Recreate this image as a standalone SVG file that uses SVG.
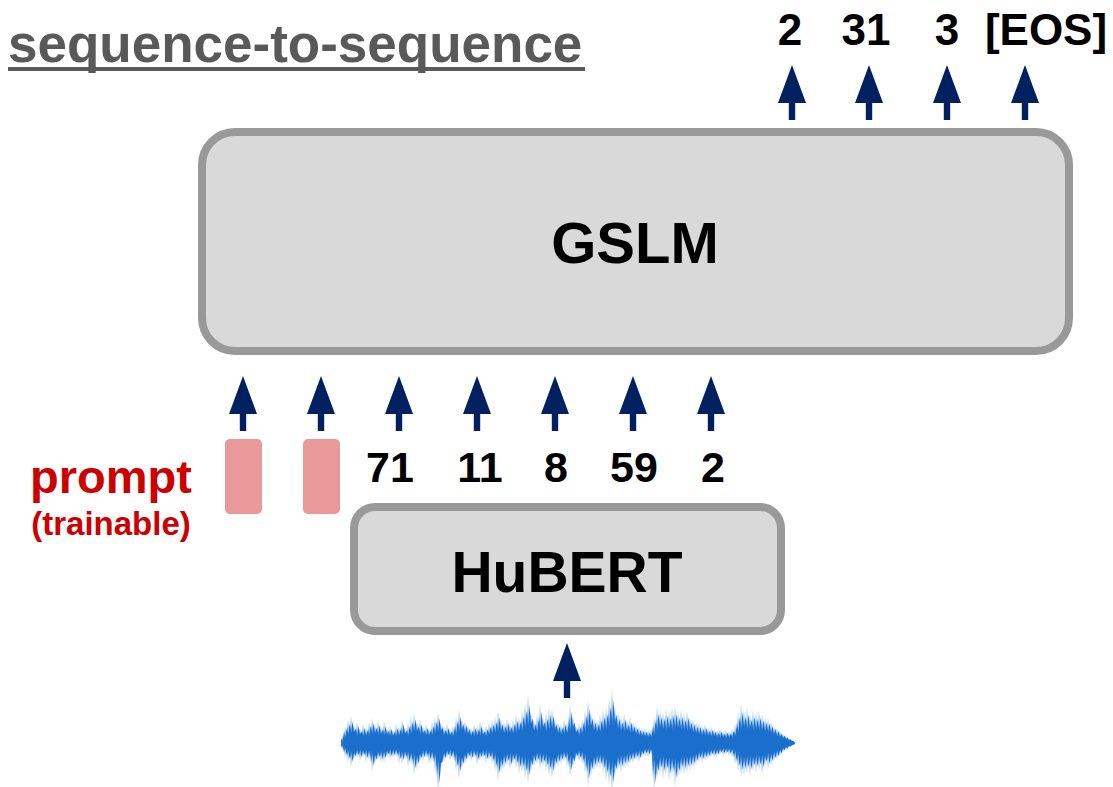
<svg xmlns="http://www.w3.org/2000/svg" xmlns:xlink="http://www.w3.org/1999/xlink" width="1113" height="787" viewBox="0 0 1113 787">
  <style>
    .box { fill: #D9D9D9; stroke: #999999; stroke-width: 8; }
    .lbl { font-family: "Liberation Sans", Arial, sans-serif; font-weight: bold; fill: #000000; text-anchor: middle; }
    .tok { font-family: "Liberation Sans", Arial, sans-serif; font-weight: bold; fill: #000000; text-anchor: middle; }
    .red { font-family: "Liberation Sans", Arial, sans-serif; font-weight: bold; fill: #CC0000; text-anchor: middle; }
    .prompt { fill: #E99999; }
    .arrow { fill: #002060; }
  </style>
  <defs>
    <!-- upward block arrow, tip at origin -->
    <path id="up" d="M0,0 L14,38 L3.2,38 L3.2,55 L-3.2,55 L-3.2,38 L-14,38 Z"/>
    <!-- waveform envelope around y=0 -->
    <path id="wave" d="M342,0 L342,-6 343.5,-3 345,-14 346.5,-7 348,-20 349.5,-10 351,-23 352.5,-11.5 354,-15 355.5,-7.5 357,-18 358.5,-9 360,-12 361.5,-6 363,-16 364.5,-8 366,-13 367.5,-6.5 369,-18 370.5,-9 372,-21 373.5,-10.5 375,-16 376.5,-8 378,-19 379.5,-9.5 381,-14 382.5,-7 384,-18 385.5,-9 387,-13 388.5,-6.5 390,-15 391.5,-7.5 393,-11 394.5,-5.5 396,-16 397.5,-8 399,-14 400.5,-7 402,-20 403.5,-10 405,-13 406.5,-6.5 408,-17 409.5,-8.5 411,-22 412.5,-11 414,-25 415.5,-12.5 417,-18 418.5,-9 420,-20 421.5,-10 423,-14 424.5,-7 426,-16 427.5,-8 429,-13 430.5,-6.5 432,-18 433.5,-9 435,-22 436.5,-11 438,-26 439.5,-13 441,-17 442.5,-8.5 444,-14 445.5,-7 447,-16 448.5,-8 450,-12 451.5,-6 453,-15 454.5,-7.5 456,-22 457.5,-11 459,-28 460.5,-14 462,-20 463.5,-10 465,-19 466.5,-9.5 468,-15 469.5,-7.5 471,-13 472.5,-6.5 474,-16 475.5,-8 477,-14 478.5,-7 480,-18 481.5,-9 483,-12 484.5,-6 486,-15 487.5,-7.5 489,-17 490.5,-8.5 492,-20 493.5,-10 495,-22 496.5,-11 498,-27 499.5,-13.5 501,-20 502.5,-10 504,-18 505.5,-9 507,-21 508.5,-10.5 510,-17 511.5,-8.5 513,-20 514.5,-10 516,-24 517.5,-12 519,-22 520.5,-11 522,-28 523.5,-14 525,-34 526.5,-17 528,-40 529.5,-20 531,-26 532.5,-13 534,-20 535.5,-10 537,-24 538.5,-12 540,-33 541.5,-16.5 543,-22 544.5,-11 546,-26 547.5,-13 549,-30 550.5,-15 552,-29 553.5,-14.5 555,-20 556.5,-10 558,-18 559.5,-9 561,-16 562.5,-8 564,-20 565.5,-10 567,-18 568.5,-9 570,-33 571.5,-16.5 573,-22 574.5,-11 576,-15 577.5,-7.5 579,-17 580.5,-8.5 582,-20 583.5,-10 585,-28 586.5,-14 588,-36 589.5,-18 591,-26 592.5,-13 594,-22 595.5,-11 597,-20 598.5,-10 600,-24 601.5,-12 603,-28 604.5,-14 606,-30 607.5,-15 609,-38 610.5,-19 612,-45 613.5,-22.5 615,-30 616.5,-15 618,-26 619.5,-13 621,-22 622.5,-11 624,-25 625.5,-12.5 627,-20 628.5,-10 630,-22 631.5,-11 633,-18 634.5,-9 636,-16 637.5,-8 639,-14 640.5,-7 642,-13 643.5,-6.5 645,-12 646.5,-6 648,-11 649.5,-5.5 651,-12 652.5,-6 654,-22 655.5,-11 657,-31 658.5,-15.5 660,-28 661.5,-14 663,-26 664.5,-13 666,-29 667.5,-14.5 669,-27 670.5,-13.5 672,-30 673.5,-15 675,-31 676.5,-15.5 678,-27 679.5,-13.5 681,-28 682.5,-14 684,-25 685.5,-12.5 687,-27 688.5,-13.5 690,-22 691.5,-11 693,-20 694.5,-10 696,-18 697.5,-9 699,-17 700.5,-8.5 702,-15 703.5,-7.5 705,-16 706.5,-8 708,-13 709.5,-6.5 711,-14 712.5,-7 714,-12 715.5,-6 717,-11 718.5,-5.5 720,-12 721.5,-6 723,-10 724.5,-5 726,-11 727.5,-5.5 729,-10 730.5,-5 732,-12 733.5,-6 735,-16 736.5,-8 738,-26 739.5,-13 741,-33 742.5,-16.5 744,-28 745.5,-14 747,-30 748.5,-15 750,-25 751.5,-12.5 753,-28 754.5,-14 756,-26 757.5,-13 759,-27 760.5,-13.5 762,-24 763.5,-12 765,-22 766.5,-11 768,-21 769.5,-10.5 771,-18 772.5,-9 774,-15 775.5,-7.5 777,-13 778.5,-6.5 780,-10 781.5,-5 783,-8 784.5,-4 786,-6 787.5,-3 789,-4 790.5,-2 792,-2 794,0 792,2 790.5,2 789,4 787.5,3 786,6 784.5,4 783,8 781.5,5.5 780,11 778.5,7 777,14 775.5,8 774,16 772.5,9.5 771,19 769.5,11 768,22 766.5,10 765,20 763.5,13 762,26 760.5,11.5 759,23 757.5,12.5 756,25 754.5,12 753,24 751.5,14 750,28 748.5,13 747,26 745.5,13.5 744,27 742.5,14.5 741,29 739.5,12 738,24 736.5,9 735,18 733.5,6 732,12 730.5,5.5 729,11 727.5,5 726,10 724.5,5.5 723,11 721.5,5 720,10 718.5,6 717,12 715.5,6.5 714,13 712.5,6 711,12 709.5,7 708,14 706.5,7.5 705,15 703.5,8.5 702,17 700.5,8 699,16 697.5,9.5 696,19 694.5,11 693,22 691.5,12 690,24 688.5,12.5 687,25 685.5,13.5 684,27 682.5,13 681,26 679.5,15 678,30 676.5,18.5 675,37 673.5,14 672,28 670.5,16 669,32 667.5,13.5 666,27 664.5,15 663,30 661.5,13 660,26 658.5,15 657,30 655.5,21 654,42 652.5,5 651,10 649.5,6 648,12 646.5,5.5 645,11 643.5,6 642,12 640.5,8 639,16 637.5,7.5 636,15 634.5,8.5 633,17 631.5,9 630,18 628.5,10.5 627,21 625.5,11 624,22 622.5,12.5 621,25 619.5,12 618,24 616.5,14 615,28 613.5,21 612,42 610.5,18 609,36 607.5,16 606,32 604.5,13 603,26 601.5,11 600,22 598.5,11 597,22 595.5,12 594,24 592.5,14 591,28 589.5,18.5 588,37 586.5,13 585,26 583.5,9 582,18 580.5,8 579,16 577.5,7 576,14 574.5,10 573,20 571.5,14.5 570,29 568.5,10 567,20 565.5,8 564,16 562.5,9 561,18 559.5,10 558,20 556.5,11 555,22 553.5,15 552,30 550.5,14 549,28 547.5,12 546,24 544.5,10 543,20 541.5,11 540,22 538.5,9 537,18 535.5,10 534,20 532.5,12 531,24 529.5,17 528,34 526.5,15 525,30 523.5,12.5 522,25 520.5,13 519,26 517.5,10.5 516,21 514.5,9 513,18 511.5,11.5 510,23 508.5,9.5 507,19 505.5,11 504,22 502.5,12.5 501,25 499.5,16 498,32 496.5,12 495,24 493.5,9 492,18 490.5,7.5 489,15 487.5,8.5 486,17 484.5,7 483,14 481.5,7.5 480,15 478.5,9 477,18 475.5,6.5 474,13 472.5,8 471,16 469.5,7 468,14 466.5,9 465,18 463.5,11 462,22 460.5,15 459,30 457.5,12 456,24 454.5,7 453,14 451.5,7.5 450,15 448.5,6.5 447,13 445.5,8 444,16 442.5,10 441,20 439.5,21 438,42 436.5,12.5 435,25 433.5,8 432,16 430.5,9 429,18 427.5,6.5 426,13 424.5,7.5 423,15 421.5,8 420,16 418.5,11 417,22 415.5,13.5 414,27 412.5,9 411,18 409.5,10 408,20 406.5,7 405,14 403.5,9 402,18 400.5,8.5 399,17 397.5,6 396,12 394.5,6.5 393,13 391.5,7 390,14 388.5,6 387,12 385.5,8 384,16 382.5,8.5 381,17 379.5,7.5 378,15 376.5,9 375,18 373.5,12 372,24 370.5,7 369,14 367.5,8 366,16 364.5,6 363,12 361.5,7.5 360,15 358.5,6.5 357,13 355.5,7 354,14 352.5,10 351,20 349.5,8 348,16 346.5,6 345,12 343.5,3 342,6 Z"/>
  </defs>

  <!-- heading -->
  <g id="title">
    <text x="8" y="62" font-family="Liberation Sans, Arial, sans-serif" font-weight="bold" font-size="53" fill="#595959">sequence-to-sequence</text>
    <rect x="8" y="67" width="577" height="4" fill="#595959"/>
  </g>

  <!-- language model -->
  <g id="gslm">
    <rect class="box" x="202" y="132" width="867" height="219" rx="33" ry="33"/>
    <text class="lbl" x="635" y="263" font-size="58">GSLM</text>
  </g>

  <!-- speech encoder -->
  <g id="hubert">
    <rect class="box" x="354" y="507" width="427" height="124" rx="21" ry="21"/>
    <text class="lbl" x="567" y="592" font-size="57">HuBERT</text>
  </g>

  <!-- trainable prompt vectors -->
  <g id="prompt">
    <rect class="prompt" x="225" y="439" width="37" height="75" rx="5" ry="5"/>
    <rect class="prompt" x="303" y="439" width="37" height="75" rx="5" ry="5"/>
    <text class="red" x="111" y="493" font-size="47">prompt</text>
    <text class="red" x="111" y="535" font-size="33">(trainable)</text>
  </g>

  <!-- discrete units fed to the model -->
  <g id="input-units" font-size="43">
    <text class="tok" x="390" y="482">71</text>
    <text class="tok" x="480" y="482">11</text>
    <text class="tok" x="556" y="482">8</text>
    <text class="tok" x="634" y="482">59</text>
    <text class="tok" x="713" y="482">2</text>
  </g>

  <!-- generated units -->
  <g id="output-units" font-size="44">
    <text class="tok" x="790" y="45">2</text>
    <text class="tok" x="866" y="45">31</text>
    <text class="tok" x="947" y="45">3</text>
    <text class="tok" x="1046" y="45">[EOS]</text>
  </g>

  <!-- speech waveform: light fringe, two darker cores offset for texture -->
  <g id="waveform">
    <use xlink:href="#wave" transform="translate(0,743) scale(1,1.2)" fill="#AACCF0"/>
    <use xlink:href="#wave" transform="translate(-1,743) scale(1,0.8)" fill="#2A78D0"/>
    <use xlink:href="#wave" transform="translate(1.5,743) scale(1,0.95)" fill="#1A6FCC"/>
  </g>

  <!-- arrows -->
  <g id="connectors" class="arrow">
    <use xlink:href="#up" x="792" y="65"/>
    <use xlink:href="#up" x="869" y="65"/>
    <use xlink:href="#up" x="947" y="65"/>
    <use xlink:href="#up" x="1025" y="65"/>
    <use xlink:href="#up" x="243" y="376"/>
    <use xlink:href="#up" x="321" y="376"/>
    <use xlink:href="#up" x="399" y="376"/>
    <use xlink:href="#up" x="477" y="376"/>
    <use xlink:href="#up" x="555" y="376"/>
    <use xlink:href="#up" x="633" y="376"/>
    <use xlink:href="#up" x="711" y="376"/>
    <use xlink:href="#up" x="567" y="643"/>
  </g>
</svg>
